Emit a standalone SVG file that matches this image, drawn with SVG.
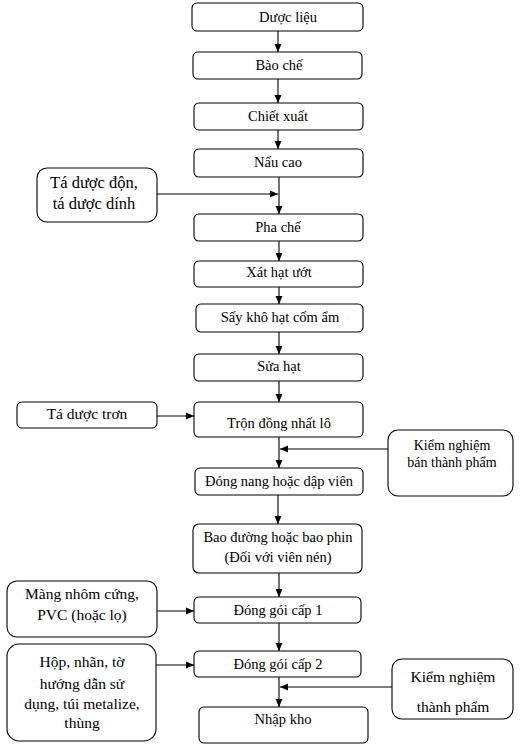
<svg xmlns="http://www.w3.org/2000/svg" width="525" height="748" viewBox="0 0 525 748">
<style>
.b{fill:#fff;stroke:#000;stroke-width:1.1}
.t{font-size:14.5px;fill:#000;text-anchor:middle}
.s{font-size:15.5px}
.c{stroke:#000;stroke-width:1.1;fill:none;marker-end:url(#ah)}
</style>
<defs>
<marker id="ah" markerUnits="userSpaceOnUse" markerWidth="8" markerHeight="8" refX="8" refY="4" orient="auto">
<path d="M0,0.5 L8,4 L0,7.5 z" fill="#000"/>
</marker>
</defs>
<rect width="525" height="748" fill="#fff"/>
<g id="connectors">
<line class="c" x1="278" y1="31" x2="278" y2="52"/>
<line class="c" x1="278" y1="79" x2="278" y2="103"/>
<line class="c" x1="278" y1="130" x2="278" y2="149"/>
<line class="c" x1="279" y1="177" x2="279" y2="214"/>
<line class="c" x1="157" y1="194" x2="278" y2="194"/>
<line class="c" x1="279" y1="241" x2="279" y2="261"/>
<line class="c" x1="279" y1="287" x2="279" y2="304"/>
<line class="c" x1="279" y1="332" x2="279" y2="354"/>
<line class="c" x1="279" y1="381" x2="279" y2="402"/>
<line class="c" x1="157" y1="416" x2="194" y2="416"/>
<line class="c" x1="279" y1="437" x2="279" y2="468"/>
<line class="c" x1="388" y1="449" x2="280" y2="449"/>
<line class="c" x1="278" y1="495" x2="278" y2="524"/>
<line class="c" x1="279" y1="573" x2="279" y2="597"/>
<line class="c" x1="157" y1="611" x2="194" y2="611"/>
<line class="c" x1="279" y1="623" x2="279" y2="651"/>
<line class="c" x1="156" y1="665" x2="194" y2="665"/>
<line class="c" x1="279" y1="677" x2="279" y2="707"/>
<line class="c" x1="392" y1="687" x2="280" y2="687"/>
</g>
<g font-family="Liberation Serif, Times New Roman, serif">
<g id="n1"><rect class="b" x="192" y="3" width="171" height="28" rx="5"/><text class="t" x="288" y="22">Dược liệu</text></g>
<g id="n2"><rect class="b" x="193" y="52" width="169" height="27" rx="5"/><text class="t" x="279" y="70">Bào chế</text></g>
<g id="n3"><rect class="b" x="194" y="103" width="169" height="27" rx="5"/><text class="t" x="278" y="121">Chiết xuất</text></g>
<g id="n4"><rect class="b" x="194" y="149" width="169" height="28" rx="5"/><text class="t" x="278" y="167">Nấu cao</text></g>
<g id="n5"><rect class="b" x="194" y="214" width="169" height="27" rx="5"/><text class="t" x="278" y="232">Pha chế</text></g>
<g id="n6"><rect class="b" x="194" y="261" width="169" height="26" rx="5"/><text class="t" x="279" y="277">Xát hạt ướt</text></g>
<g id="n7"><rect class="b" x="196" y="304" width="167" height="28" rx="5"/><text class="t" x="280" y="322">Sấy khô hạt cốm ẩm</text></g>
<g id="n8"><rect class="b" x="194" y="354" width="169" height="27" rx="5"/><text class="t" x="279" y="371">Sửa hạt</text></g>
<g id="n9"><rect class="b" x="194" y="402" width="169" height="35" rx="5"/><text class="t" x="279" y="428">Trộn đồng nhất lô</text></g>
<g id="n10"><rect class="b" x="195" y="468" width="168" height="27" rx="5"/><text class="t" x="279" y="486">Đóng nang hoặc dập viên</text></g>
<g id="n11"><rect class="b" x="193" y="524" width="169" height="49" rx="6"/><text class="t" x="278" y="542">Bao đường hoặc bao phin</text><text class="t" x="278" y="562">(Đối với viên nén)</text></g>
<g id="n12"><rect class="b" x="194" y="597" width="167" height="26" rx="5"/><text class="t" x="278" y="615">Đóng gói cấp 1</text></g>
<g id="n13"><rect class="b" x="194" y="651" width="167" height="26" rx="5"/><text class="t" x="278" y="669">Đóng gói cấp 2</text></g>
<g id="n14"><rect class="b" x="199" y="707" width="169" height="36" rx="5"/><text class="t" x="283" y="724">Nhập kho</text></g>
<g id="s1"><rect class="b" x="37" y="168" width="120" height="54" rx="10"/><text class="t" style="font-size:16.5px" x="94" y="188">Tá dược độn,</text><text class="t" style="font-size:16.5px" x="94" y="209">tá dược dính</text></g>
<g id="s2"><rect class="b" x="17" y="402" width="140" height="26" rx="5"/><text class="t s" x="87" y="419">Tá dược trơn</text></g>
<g id="s3"><rect class="b" x="388" y="430" width="125" height="66" rx="10"/><text class="t" style="font-size:14px" x="452" y="450">Kiểm nghiệm</text><text class="t" style="font-size:14px" x="452" y="467">bán thành phẩm</text></g>
<g id="s4"><rect class="b" x="7" y="581" width="150" height="56" rx="10"/><text class="t s" x="82" y="599">Màng nhôm cứng,</text><text class="t s" x="82" y="620">PVC (hoặc lọ)</text></g>
<g id="s5"><rect class="b" x="7" y="644" width="149" height="97" rx="12"/><text class="t s" x="82" y="667">Hộp, nhãn, tờ</text><text class="t s" x="82" y="689">hướng dẫn sử</text><text class="t s" x="82" y="709">dụng, túi metalize,</text><text class="t s" x="82" y="728">thùng</text></g>
<g id="s6"><rect class="b" x="392" y="659" width="121" height="60" rx="10"/><text class="t s" x="453" y="682">Kiểm nghiệm</text><text class="t s" x="453" y="712">thành phẩm</text></g>
</g>
</svg>
